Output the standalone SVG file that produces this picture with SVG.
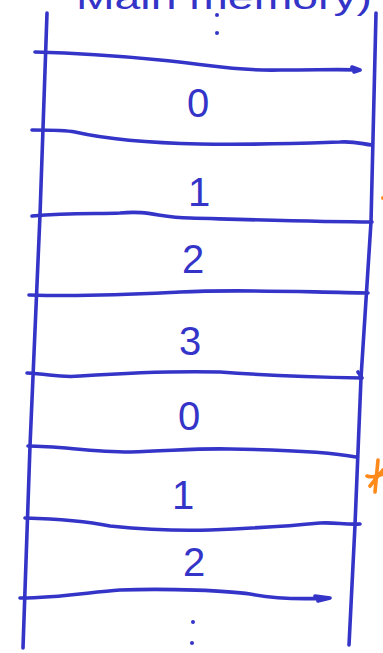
<svg xmlns="http://www.w3.org/2000/svg" width="383" height="653" viewBox="0 0 383 653">
<style>
.ink{fill:none;stroke:#3434c8;stroke-width:3.6;stroke-linecap:round;stroke-linejoin:round}
.dig{font-family:"Liberation Sans",Arial,sans-serif;font-size:40px;fill:#3434c8;text-anchor:middle}
.title{font-family:"Liberation Sans",Arial,sans-serif;font-size:34px;fill:#3434c8}
.dot{fill:#3434c8}
.orange{fill:none;stroke:#ff8a1a;stroke-width:3.6;stroke-linecap:round}
</style>
<rect width="383" height="653" fill="#ffffff"/>
<text class="title" x="76" y="9" textLength="296" lengthAdjust="spacingAndGlyphs">Main memory)</text>
<g id="frame">
<path class="ink" d="M47,13 L40,215 L30,446 L23,648"/>
<path class="ink" d="M376,13 L371,222 L361,378 L355,525 L349,645"/>
</g>
<g id="dividers">
<path class="ink" d="M35,52 C80,53 120,56 160,60 C210,65 240,71 280,70 C320,70 340,69 360,70 M352,67 L360,70 L354,72"/>
<path class="ink" d="M32,130 C50,130 65,130 75,132 C110,140 150,143 200,144 C260,145 310,143 340,142 C355,141 362,144 372,145"/>
<path class="ink" d="M32,216 C70,213 100,214 120,213 C150,210 160,218 190,218 C260,220 320,222 372,222"/>
<path class="ink" d="M29,295 C90,297 140,294 180,292 C240,289 300,292 368,293"/>
<path class="ink" d="M27,373 C50,374 60,378 80,376 C140,372 180,371 220,372 C260,375 310,377 362,378 M358,372 L362,378"/>
<path class="ink" d="M28,446 C60,446 90,452 130,452 C170,451 200,448 230,449 C290,450 330,452 356,457"/>
<path class="ink" d="M25,518 C60,519 90,522 110,526 C150,530 180,531 210,530 C260,528 290,526 320,523 C335,522 345,525 360,524"/>
<path class="ink" d="M20,598 C60,598 90,592 120,590 C170,588 230,591 250,594 C280,600 310,599 330,598 M315,596 L330,598 L318,601"/>
</g>
<g id="dots-top"><circle class="dot" cx="217" cy="15" r="2"/><circle class="dot" cx="217" cy="33" r="2"/></g>
<g id="cell-0a"><text class="dig" x="198" y="117">0</text></g>
<g id="cell-1a"><text class="dig" x="199" y="206">1</text></g>
<g id="cell-2a"><text class="dig" x="193" y="273">2</text></g>
<g id="cell-3"><text class="dig" x="190" y="355">3</text></g>
<g id="cell-0b"><text class="dig" x="189" y="430">0</text></g>
<g id="cell-1b"><text class="dig" x="183" y="509">1</text></g>
<g id="cell-2b"><text class="dig" x="194" y="576">2</text></g>
<g id="dots-bottom"><circle class="dot" cx="193" cy="622" r="2"/><circle class="dot" cx="192" cy="643" r="2"/></g>
<g id="marks">
<circle cx="383" cy="198" r="2" fill="#ff8a1a"/>
<path class="orange" d="M378,460 L375,492 M367,476 C372,478 378,476 383,474 M370,486 L383,470"/>
</g>
</svg>
